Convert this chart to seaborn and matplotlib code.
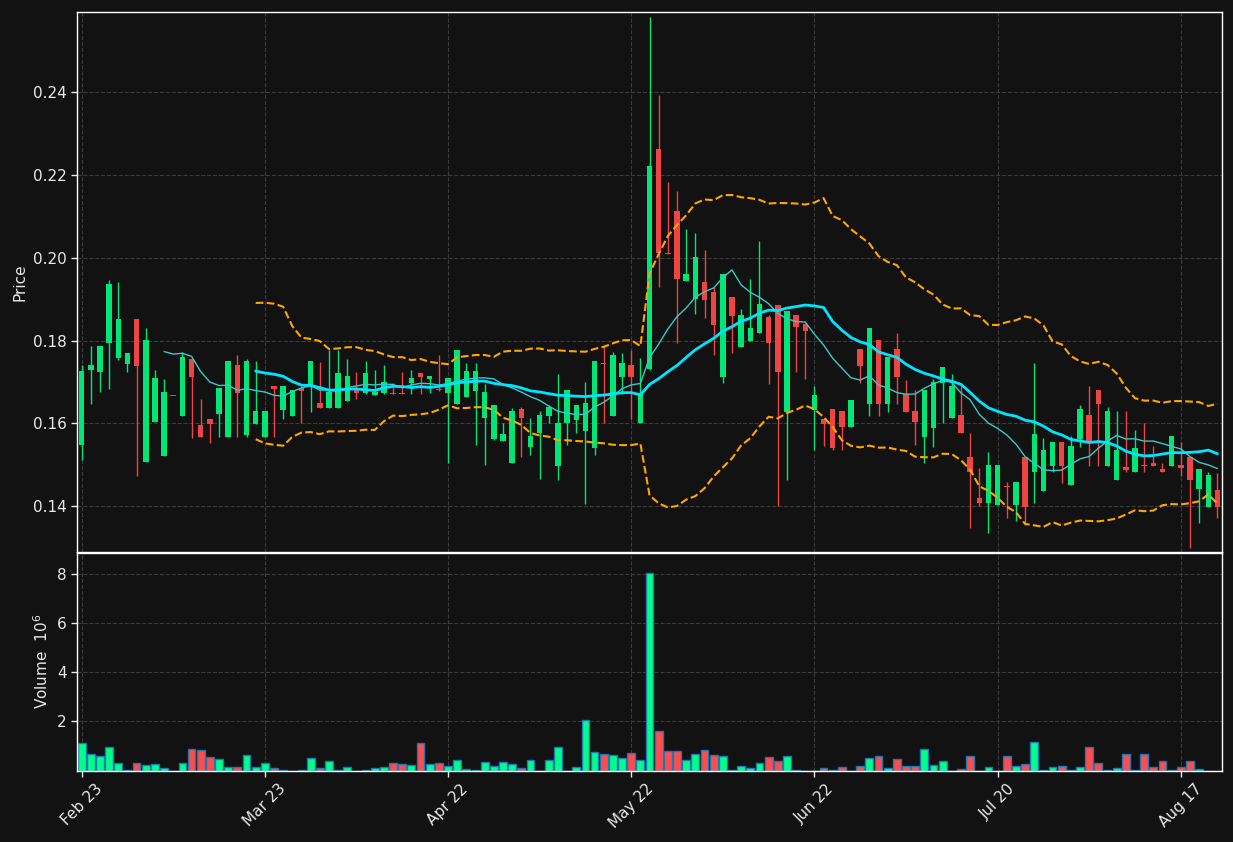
import numpy as np
import pandas as pd
import matplotlib
matplotlib.use("Agg")
import matplotlib.pyplot as plt
import seaborn as sns

# ---------------- data ----------------
opens = [0.1548, 0.1729, 0.1725, 0.1794, 0.1758, 0.1744, 0.1851, 0.1508, 0.1604, 0.1522,
         0.1666, 0.1618, 0.1755, 0.1596, 0.1610, 0.1623, 0.1568, 0.1741, 0.1572, 0.1599,
         0.1568, 0.1690, 0.1632, 0.1618, 0.1686, 0.1692, 0.1649, 0.1638, 0.1638, 0.1655,
         0.1681, 0.1674, 0.1669, 0.1674, 0.1671, 0.1671, 0.1698, 0.1721, 0.1708, 0.1681,
         0.1674, 0.1648, 0.1664, 0.1679, 0.1614, 0.1562, 0.1558, 0.1504, 0.1635, 0.1544,
         0.1577, 0.1618, 0.1498, 0.1600, 0.1608, 0.1582, 0.1540, 0.1746, 0.1618, 0.1712,
         0.1741, 0.1600, 0.1732, 0.2261, 0.2011, 0.2112, 0.1944, 0.1899, 0.1941, 0.1916,
         0.1712, 0.1904, 0.1785, 0.1799, 0.1818, 0.1856, 0.1885, 0.1628, 0.1861, 0.1839,
         0.1632, 0.1610, 0.1636, 0.1630, 0.1592, 0.1779, 0.1648, 0.1801, 0.1648, 0.1779,
         0.1672, 0.1630, 0.1568, 0.1590, 0.1698, 0.1614, 0.1620, 0.1519, 0.1420, 0.1409,
         0.1403, 0.1449, 0.1403, 0.1519, 0.1484, 0.1438, 0.1497, 0.1555, 0.1452, 0.1562,
         0.1620, 0.1680, 0.1498, 0.1464, 0.1495, 0.1484, 0.1500, 0.1504, 0.1489, 0.1498,
         0.1500, 0.1520, 0.1442, 0.1399, 0.1439]
highs = [0.1741, 0.1786, 0.1787, 0.1945, 0.1941, 0.1770, 0.1851, 0.1829, 0.1730, 0.1708,
         0.1666, 0.1773, 0.1755, 0.1660, 0.1610, 0.1685, 0.1750, 0.1765, 0.1755, 0.1750,
         0.1630, 0.1690, 0.1690, 0.1680, 0.1690, 0.1750, 0.1749, 0.1778, 0.1778, 0.1755,
         0.1725, 0.1750, 0.1730, 0.1741, 0.1698, 0.1725, 0.1730, 0.1721, 0.1714, 0.1765,
         0.1709, 0.1778, 0.1745, 0.1745, 0.1695, 0.1644, 0.1600, 0.1638, 0.1639, 0.1614,
         0.1630, 0.1644, 0.1720, 0.1680, 0.1644, 0.1700, 0.1750, 0.1789, 0.1773, 0.1769,
         0.1778, 0.1758, 0.2581, 0.2391, 0.2181, 0.2160, 0.2070, 0.2060, 0.2019, 0.1929,
         0.1960, 0.1904, 0.1875, 0.1949, 0.2041, 0.1861, 0.1885, 0.1871, 0.1861, 0.1839,
         0.1690, 0.1610, 0.1636, 0.1630, 0.1656, 0.1779, 0.1830, 0.1801, 0.1760, 0.1819,
         0.1704, 0.1680, 0.1680, 0.1708, 0.1736, 0.1720, 0.1698, 0.1578, 0.1493, 0.1530,
         0.1500, 0.1458, 0.1459, 0.1519, 0.1745, 0.1564, 0.1555, 0.1555, 0.1569, 0.1644,
         0.1690, 0.1680, 0.1640, 0.1630, 0.1630, 0.1584, 0.1600, 0.1545, 0.1504, 0.1569,
         0.1556, 0.1520, 0.1491, 0.1484, 0.1480]
lows = [0.1513, 0.1648, 0.1675, 0.1684, 0.1754, 0.1725, 0.1474, 0.1508, 0.1604, 0.1522,
        0.1665, 0.1618, 0.1564, 0.1568, 0.1554, 0.1568, 0.1568, 0.1568, 0.1568, 0.1599,
        0.1568, 0.1568, 0.1610, 0.1618, 0.1600, 0.1628, 0.1638, 0.1638, 0.1638, 0.1655,
        0.1660, 0.1670, 0.1669, 0.1670, 0.1670, 0.1670, 0.1670, 0.1670, 0.1674, 0.1679,
        0.1504, 0.1648, 0.1664, 0.1549, 0.1500, 0.1560, 0.1558, 0.1504, 0.1518, 0.1524,
        0.1467, 0.1600, 0.1463, 0.1549, 0.1578, 0.1405, 0.1524, 0.1600, 0.1618, 0.1672,
        0.1610, 0.1600, 0.1730, 0.1929, 0.2008, 0.1795, 0.1944, 0.1865, 0.1855, 0.1764,
        0.1698, 0.1769, 0.1785, 0.1799, 0.1818, 0.1694, 0.1400, 0.1463, 0.1725, 0.1708,
        0.1537, 0.1546, 0.1537, 0.1536, 0.1592, 0.1698, 0.1618, 0.1618, 0.1628, 0.1648,
        0.1628, 0.1549, 0.1504, 0.1544, 0.1600, 0.1614, 0.1578, 0.1349, 0.1401, 0.1335,
        0.1403, 0.1373, 0.1365, 0.1355, 0.1409, 0.1438, 0.1484, 0.1457, 0.1452, 0.1544,
        0.1498, 0.1498, 0.1498, 0.1464, 0.1484, 0.1484, 0.1484, 0.1498, 0.1484, 0.1498,
        0.1474, 0.1299, 0.1359, 0.1399, 0.1373]
closes = [0.1726, 0.1741, 0.1786, 0.1936, 0.1851, 0.1769, 0.1739, 0.1801, 0.1709, 0.1676,
          0.1665, 0.1760, 0.1712, 0.1568, 0.1599, 0.1685, 0.1750, 0.1674, 0.1750, 0.1630,
          0.1630, 0.1683, 0.1690, 0.1680, 0.1679, 0.1750, 0.1638, 0.1676, 0.1721, 0.1714,
          0.1674, 0.1721, 0.1676, 0.1700, 0.1670, 0.1670, 0.1709, 0.1712, 0.1714, 0.1680,
          0.1709, 0.1778, 0.1726, 0.1726, 0.1676, 0.1644, 0.1574, 0.1630, 0.1614, 0.1569,
          0.1620, 0.1640, 0.1600, 0.1680, 0.1644, 0.1650, 0.1750, 0.1744, 0.1765, 0.1745,
          0.1712, 0.1674, 0.2220, 0.2010, 0.2008, 0.1948, 0.1960, 0.2001, 0.1898, 0.1837,
          0.1960, 0.1859, 0.1861, 0.1830, 0.1888, 0.1794, 0.1725, 0.1871, 0.1833, 0.1823,
          0.1668, 0.1598, 0.1541, 0.1592, 0.1656, 0.1739, 0.1830, 0.1648, 0.1760, 0.1712,
          0.1628, 0.1604, 0.1680, 0.1700, 0.1736, 0.1690, 0.1578, 0.1483, 0.1409, 0.1500,
          0.1500, 0.1447, 0.1459, 0.1399, 0.1574, 0.1536, 0.1555, 0.1497, 0.1545, 0.1635,
          0.1556, 0.1648, 0.1630, 0.1536, 0.1488, 0.1541, 0.1498, 0.1498, 0.1484, 0.1569,
          0.1493, 0.1464, 0.1491, 0.1475, 0.1399]
volumes = [1.13, 0.68, 0.60, 0.97, 0.31, 0.03, 0.31, 0.23, 0.27, 0.11,
           0.00, 0.31, 0.88, 0.84, 0.56, 0.48, 0.14, 0.14, 0.64, 0.14,
           0.31, 0.11, 0.03, 0.00, 0.03, 0.52, 0.11, 0.39, 0.03, 0.15,
           0.00, 0.03, 0.11, 0.15, 0.31, 0.27, 0.23, 1.13, 0.27, 0.31,
           0.19, 0.44, 0.07, 0.03, 0.35, 0.19, 0.35, 0.27, 0.11, 0.44,
           0.00, 0.44, 0.97, 0.00, 0.15, 2.07, 0.76, 0.68, 0.64, 0.52,
           0.72, 0.44, 8.03, 1.62, 0.80, 0.80, 0.44, 0.68, 0.84, 0.64,
           0.60, 0.03, 0.19, 0.11, 0.31, 0.56, 0.39, 0.60, 0.03, 0.00,
           0.00, 0.11, 0.03, 0.15, 0.00, 0.19, 0.52, 0.60, 0.11, 0.48,
           0.19, 0.19, 0.88, 0.23, 0.39, 0.00, 0.07, 0.60, 0.00, 0.15,
           0.00, 0.60, 0.19, 0.27, 1.17, 0.02, 0.15, 0.19, 0.03, 0.15,
           0.97, 0.31, 0.02, 0.11, 0.68, 0.02, 0.68, 0.15, 0.39, 0.02,
           0.15, 0.39, 0.07, 0.00, 0.00]
tick_labels = ["Feb 23", "Mar 23", "Apr 22", "May 22", "Jun 22", "Jul 20", "Aug 17"]
tick_every = 20

# ---------------- style ----------------
BG = "#121212"
FG = "#e8e8e8"
UP, DOWN = "#00e676", "#ef4444"
VUP, VDOWN = "#00ff88", "#ff4d4d"

sns.set_theme(style="dark", rc={
    "figure.facecolor": BG, "axes.facecolor": BG, "axes.edgecolor": "white",
    "axes.labelcolor": FG, "xtick.color": FG, "ytick.color": FG,
    "text.color": FG, "grid.color": "#3c3c3c", "grid.linestyle": "--",
    "grid.linewidth": 0.8, "axes.grid": True, "xtick.bottom": True,
    "ytick.left": True, "font.size": 11,
})
plt.rcParams["font.family"] = ["DejaVu Sans"]

df = pd.DataFrame({"open": opens, "high": highs, "low": lows,
                   "close": closes, "volume": volumes})
df["idx"] = np.arange(len(df))
df["dir"] = np.where(df["close"] >= df["open"], "up", "down")
df["ma20"] = df["close"].rolling(20).mean()
df["ma10"] = df["close"].rolling(10).mean()
sd = df["close"].rolling(20).std(ddof=0)
df["bb_up"] = df["ma20"] + 2 * sd
df["bb_lo"] = df["ma20"] - 2 * sd

fig = plt.figure(figsize=(12.33, 8.42), dpi=100, facecolor=BG)
ax = fig.add_axes([0.0625, 0.3444, 0.9286, 0.6413])
axv = fig.add_axes([0.0625, 0.0847, 0.9286, 0.2585])

# candles
cols = np.where(df["dir"] == "up", UP, DOWN)
ax.vlines(df["idx"], df["low"], df["high"], colors=cols, linewidth=1, zorder=3)
body_lo = np.minimum(df["open"], df["close"])
body_h = np.maximum(np.abs(df["close"] - df["open"]), 0.00025)
ax.bar(df["idx"], body_h, bottom=body_lo, width=0.6, color=cols, linewidth=0, zorder=4)

# indicators
sns.lineplot(data=df, x="idx", y="ma10", ax=ax, color="#3cc8c8", linewidth=1.0,
             estimator=None, zorder=5)
sns.lineplot(data=df, x="idx", y="ma20", ax=ax, color="#00e5ff", linewidth=2.0,
             estimator=None, zorder=5)
sns.lineplot(data=df, x="idx", y="bb_up", ax=ax, color="#ffa500", linewidth=1.5,
             linestyle="--", estimator=None, zorder=5)
sns.lineplot(data=df, x="idx", y="bb_lo", ax=ax, color="#ffa500", linewidth=1.5,
             linestyle="--", estimator=None, zorder=5)

# volume
sns.barplot(data=df, x="idx", y="volume", hue="dir", hue_order=["up", "down"],
            palette={"up": VUP, "down": VDOWN}, native_scale=True, dodge=False,
            saturation=1, width=0.85, edgecolor="#1f77b4", linewidth=1.0,
            legend=False, ax=axv)

n = len(df)
ticks = list(range(0, n, tick_every))[:len(tick_labels)]
for a in (ax, axv):
    a.set_xlim(-0.5, n - 0.5)
    a.set_xticks(ticks)
    a.grid(True, which="major", axis="both", color="#3c3c3c", linestyle="--", linewidth=0.8)
    for s in a.spines.values():
        s.set_color("white")
        s.set_linewidth(1.0)
    a.tick_params(colors=FG, length=4, width=1, labelsize=11)

ax.set_xticklabels([])
ax.set_xlabel("")
ax.set_ylim(0.1290, 0.2592)
ax.set_yticks([0.14, 0.16, 0.18, 0.20, 0.22, 0.24])
ax.set_yticklabels([f"{v:.2f}" for v in [0.14, 0.16, 0.18, 0.20, 0.22, 0.24]])
ax.set_ylabel("Price", fontsize=11)

axv.set_ylim(0, max(volumes) * 1.1)
axv.set_yticks([2, 4, 6, 8])
axv.set_yticklabels(["2", "4", "6", "8"])
axv.set_xticklabels(tick_labels, rotation=45)
axv.set_xlabel("")
axv.set_ylabel("Volume  $10^6$", fontsize=11)

fig.savefig("out.png", dpi=100, facecolor=BG)
